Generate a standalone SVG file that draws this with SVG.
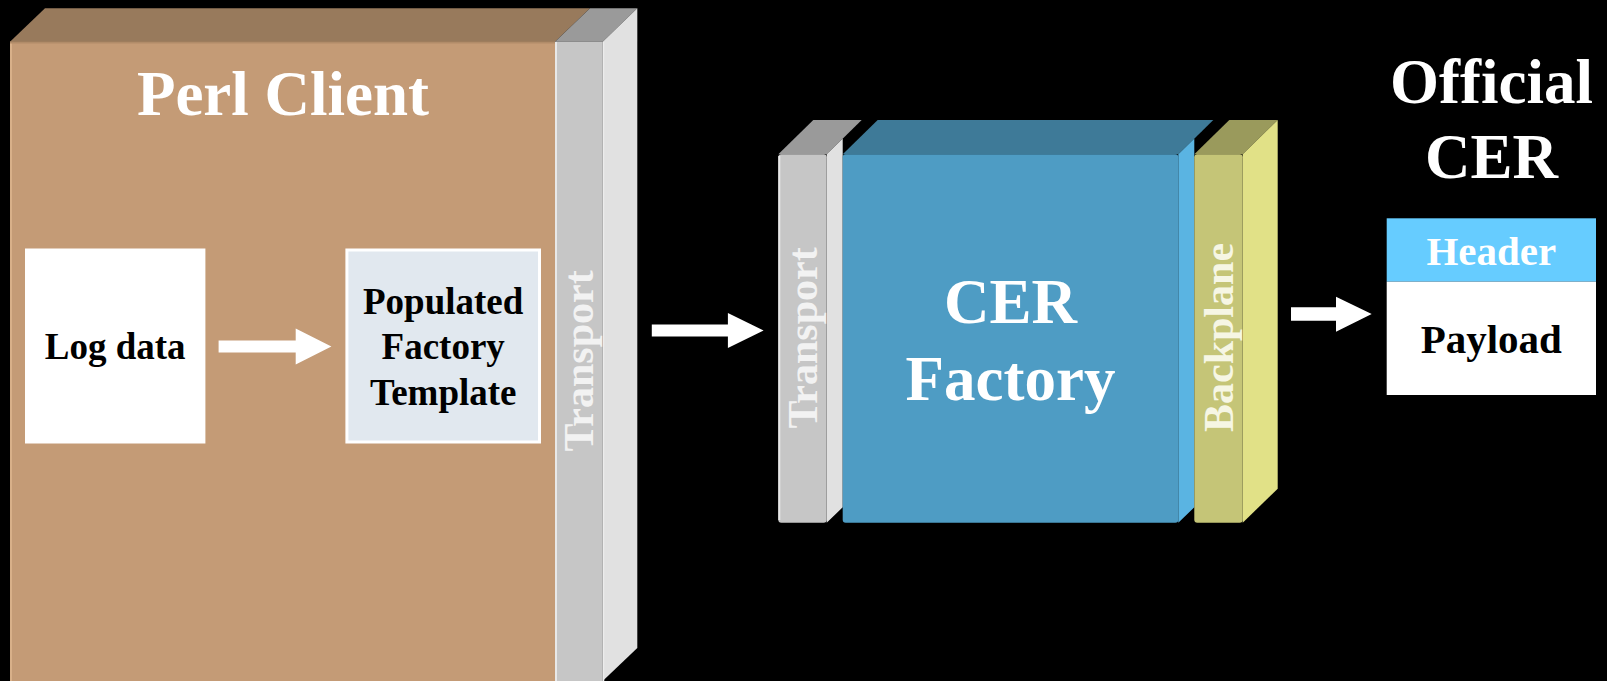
<svg xmlns="http://www.w3.org/2000/svg" width="1607" height="681" viewBox="0 0 1607 681">
  <style>
    .t { font-family: "Liberation Serif", "Times New Roman", serif; font-weight: bold; text-anchor: middle; }
    .big { font-size: 63px; fill: #ffffff; }
    .mid { font-size: 37px; fill: #000000; }
    .lbl { font-size: 41px; }
    .rot { font-size: 42px; }
    .arrow { fill: #ffffff; }
    .gray-front { fill: #c6c6c6; }
    .gray-side { fill: #e1e1e1; }
    .gray-top { fill: #9a9a9a; }
    .edge { stroke: #e8e8e8; stroke-width: 2; fill: none; }
  </style>

  <rect x="0" y="0" width="1607" height="681" fill="#000000"/>

  <!-- Perl client block -->
  <g id="perl-client">
    <polygon points="10,41.7 45,8.3 590,8.3 555,41.7" fill="#987a5c"/>
    <rect x="10" y="41.7" width="545" height="650" fill="#c49b76"/>
    <line x1="11" y1="42" x2="11" y2="681" stroke="#d8b089" stroke-width="2"/>
    <line x1="10" y1="42.5" x2="555" y2="42.5" stroke="#b18c69" stroke-width="2"/>
    <text class="t big" x="283" y="115">Perl Client</text>
  </g>

  <g id="log-data">
    <rect x="25" y="248.5" width="180.4" height="195" fill="#ffffff"/>
    <text class="t mid" x="115.2" y="358.5">Log data</text>
  </g>

  <g id="populated-template">
    <rect x="346.9" y="250" width="192.6" height="192" fill="#e1e8ef" stroke="#ffffff" stroke-width="3"/>
    <text class="t mid" x="443.2" y="313.5">Populated</text>
    <text class="t mid" x="443.2" y="358.5">Factory</text>
    <text class="t mid" x="443.2" y="404.5">Template</text>
  </g>

  <!-- Client transport slab -->
  <g id="client-transport">
    <polygon class="gray-top" points="555,41.7 590,8.3 637.3,8.3 602.7,41.7"/>
    <polygon class="gray-side" points="602.7,41.7 637.3,8.3 637.3,648 602.7,681"/>
    <rect class="gray-front" x="555" y="41.7" width="47.7" height="640"/>
    <line class="edge" x1="556" y1="42" x2="556" y2="681"/>
    <line x1="603.5" y1="42" x2="603.5" y2="681" stroke="#ececec" stroke-width="1.5"/>
    <text class="t rot" fill="#f2f2f2" transform="translate(578.8,361) rotate(-90)" x="0" y="14">Transport</text>
  </g>

  <!-- Factory transport slab -->
  <g id="factory-transport">
    <polygon class="gray-top" points="778.3,154.3 813.3,120 861.7,120 826.7,154.3"/>
    <polygon class="gray-side" points="826.7,154.3 861.7,120 842.7,138.6 842.7,507.3 826.7,522.7"/>
    <rect class="gray-front" x="778.3" y="154.3" width="48.4" height="368.4" rx="3"/>
    <line class="edge" x1="779.3" y1="156" x2="779.3" y2="520"/>
    <text class="t rot" fill="#f2f2f2" transform="translate(802.5,338) rotate(-90)" x="0" y="14">Transport</text>
  </g>

  <!-- CER factory block -->
  <g id="cer-factory">
    <polygon points="842.7,154.3 877.7,120 1213.3,120 1178.3,154.3" fill="#3e7a98"/>
    <polygon points="1178.3,154.3 1213.3,120 1194.3,138.6 1194.3,507.3 1178.3,522.7" fill="#5ab4e2"/>
    <rect x="842.7" y="154.3" width="335.6" height="368.4" rx="3" fill="#4e9cc4"/>
    <text class="t big" x="1010.5" y="323.3">CER</text>
    <text class="t big" x="1010.5" y="400">Factory</text>
  </g>

  <!-- Backplane slab -->
  <g id="backplane">
    <polygon points="1194.3,154.3 1229.3,120 1277.7,120 1242.7,154.3" fill="#9a9a5c"/>
    <polygon points="1242.7,154.3 1277.7,120 1277.7,488.7 1242.7,522.7" fill="#e1e187"/>
    <rect x="1194.3" y="154.3" width="48.4" height="368.4" rx="3" fill="#c5c577"/>
    <text class="t rot" fill="#f6f6e4" transform="translate(1218.5,337.5) rotate(-90)" x="0" y="14">Backplane</text>
  </g>

  <!-- Resulting record -->
  <g id="official-cer">
    <text class="t big" x="1491.5" y="103.3">Official</text>
    <text class="t big" x="1491.5" y="178.3">CER</text>
    <rect x="1386.7" y="218.3" width="209.3" height="63.4" fill="#66ccff"/>
    <rect x="1386.7" y="281.7" width="209.3" height="113.3" fill="#ffffff"/>
    <text class="t lbl" fill="#ffffff" x="1491.3" y="265">Header</text>
    <text class="t lbl" fill="#000000" x="1491.3" y="353.3">Payload</text>
  </g>

  <!-- Flow arrows -->
  <g id="connectors">
    <polygon class="arrow" points="218.6,340.5 295.7,340.5 295.7,328.5 331.4,346.5 295.7,364.5 295.7,352.5 218.6,352.5"/>
    <polygon class="arrow" points="651.8,324.5 727.9,324.5 727.9,313 763.6,330.5 727.9,348 727.9,336.5 651.8,336.5"/>
    <polygon class="arrow" points="1291,307.3 1336,307.3 1336,296.7 1371.7,314 1336,331.7 1336,320.7 1291,320.7"/>
  </g>
</svg>
